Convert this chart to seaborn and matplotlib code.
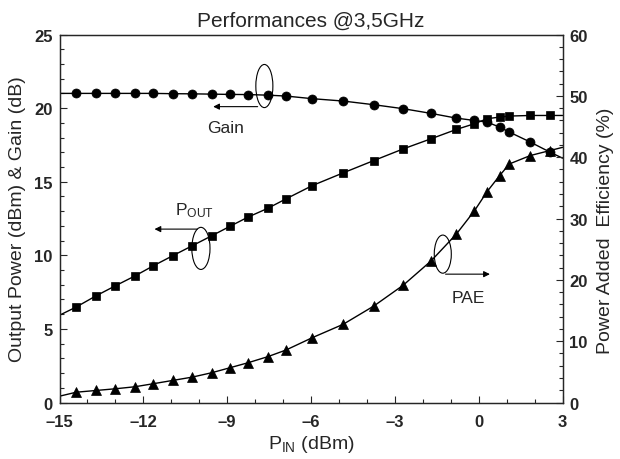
import numpy as np
import matplotlib
matplotlib.use('Agg')
import matplotlib.pyplot as plt
from matplotlib.patches import Ellipse
from matplotlib.ticker import MultipleLocator
import seaborn as sns

# input power (dBm) where the markers sit
pin = [-14.4, -13.7, -13.0, -12.3, -11.65, -10.95, -10.25, -9.55, -8.9, -8.25,
       -7.55, -6.9, -5.95, -4.85, -3.75, -2.7, -1.7, -0.8, -0.15, 0.3,
       0.75, 1.1, 1.85, 2.55]
gain = [21.0, 21.0, 21.0, 21.0, 21.0, 20.98, 20.97, 20.95, 20.93, 20.92,
        20.88, 20.82, 20.64, 20.48, 20.23, 19.96, 19.64, 19.32, 19.16, 19.05,
        18.71, 18.37, 17.69, 17.01]
pout = [6.49, 7.24, 7.93, 8.6, 9.28, 9.97, 10.65, 11.33, 11.97, 12.6,
        13.19, 13.83, 14.74, 15.6, 16.44, 17.23, 17.92, 18.55, 18.94, 19.28,
        19.39, 19.46, 19.5, 19.5]
pae = [1.68, 1.96, 2.24, 2.57, 3.06, 3.6, 4.14, 4.86, 5.67, 6.49,
       7.47, 8.55, 10.58, 12.75, 15.74, 19.13, 23.1, 27.46, 31.27, 34.38,
       37.0, 38.9, 40.27, 41.08]

# curve values at the plot edges (-15 dBm and 3 dBm)
pin_edges = [-15, 3]
gain_edges = [21.0, 16.6]
pout_edges = [5.93, 19.5]
pae_edges = [1.03, 41.6]


def full(vals, edges):
    return [edges[0]] + list(vals) + [edges[1]]


sns.set_style("ticks")
plt.rcParams['font.family'] = ['Liberation Sans', 'DejaVu Sans']
plt.rcParams['mathtext.default'] = 'regular'

fig = plt.figure(figsize=(6.2, 4.6), dpi=100)
ax = fig.add_axes([0.096, 0.1228, 0.8113, 0.80])
ax2 = ax.twinx()

x = full(pin, pin_edges)
inner = slice(1, -1)
sns.lineplot(x=x, y=full(gain, gain_edges), ax=ax, color='black', lw=1,
             marker='o', markersize=6.5, markevery=inner, mec='black', mew=0.5)
sns.lineplot(x=x, y=full(pout, pout_edges), ax=ax, color='black', lw=1,
             marker='s', markersize=5.5, markevery=inner, mec='black', mew=0.5)
sns.lineplot(x=x, y=full(pae, pae_edges), ax=ax2, color='black', lw=1,
             marker='^', markersize=7, markevery=inner, mec='black', mew=0.5)

ax.set_xlim(-15, 3)
ax.set_ylim(0, 25)
ax2.set_ylim(0, 60)
ax.xaxis.set_major_locator(MultipleLocator(3))
ax.xaxis.set_minor_locator(MultipleLocator(1))
ax.yaxis.set_major_locator(MultipleLocator(5))
ax.yaxis.set_minor_locator(MultipleLocator(1))
ax2.yaxis.set_major_locator(MultipleLocator(10))
ax2.yaxis.set_minor_locator(MultipleLocator(2))

for a in (ax, ax2):
    a.tick_params(which='major', direction='in', length=5, width=0.8,
                  labelsize=12, pad=5)
    a.tick_params(which='minor', direction='in', length=3, width=0.8)
    for lab in a.get_xticklabels() + a.get_yticklabels():
        lab.set_fontweight('bold')
    for s in a.spines.values():
        s.set_visible(True)
        s.set_linewidth(0.9)
ax.tick_params(axis='y', which='both', right=False)
ax.tick_params(axis='x', which='major', pad=8)
ax.set_xticklabels([('\u2013' + str(abs(int(t)))) if t < 0 else str(int(t))
                    for t in ax.get_xticks()], fontweight='bold')

ax.set_xlabel('P$_{IN}$ (dBm)', fontsize=14, labelpad=3)
ax.set_ylabel('Output Power (dBm) & Gain (dB)', fontsize=14, labelpad=6)
ax2.set_ylabel('Power Added  Efficiency (%)', fontsize=14)
ax2.yaxis.set_label_coords(1.068, 0.47)
ax.set_title('Performances @3,5GHz', fontsize=15, pad=6)

# callouts: ellipse around a curve with an arrow pointing to its axis
arrow = dict(arrowstyle='-|>', color='black', lw=0.8, mutation_scale=9)
ax.add_patch(Ellipse((-7.67, 21.5), 0.61, 2.93, fill=False, lw=0.8, color='black'))
ax.annotate('', xy=(-9.6, 20.1), xytext=(-7.81, 20.1), arrowprops=arrow)
ax.text(-9.07, 18.66, 'Gain', fontsize=12.5, ha='center', va='center')

ax.add_patch(Ellipse((-9.94, 10.47), 0.65, 2.86, fill=False, lw=0.8, color='black'))
ax.annotate('', xy=(-11.7, 11.78), xytext=(-9.97, 11.78), arrowprops=arrow)
ax.text(-10.85, 13.1, 'P$_{OUT}$', fontsize=12.5, ha='left', va='center')

ax.add_patch(Ellipse((-1.285, 10.08), 0.61, 2.59, fill=False, lw=0.8, color='black'))
ax.annotate('', xy=(0.5, 8.72), xytext=(-1.285, 8.72), arrowprops=arrow)
ax.text(-0.375, 7.15, 'PAE', fontsize=12.5, ha='center', va='center')

fig.savefig('out.png', dpi=100)
